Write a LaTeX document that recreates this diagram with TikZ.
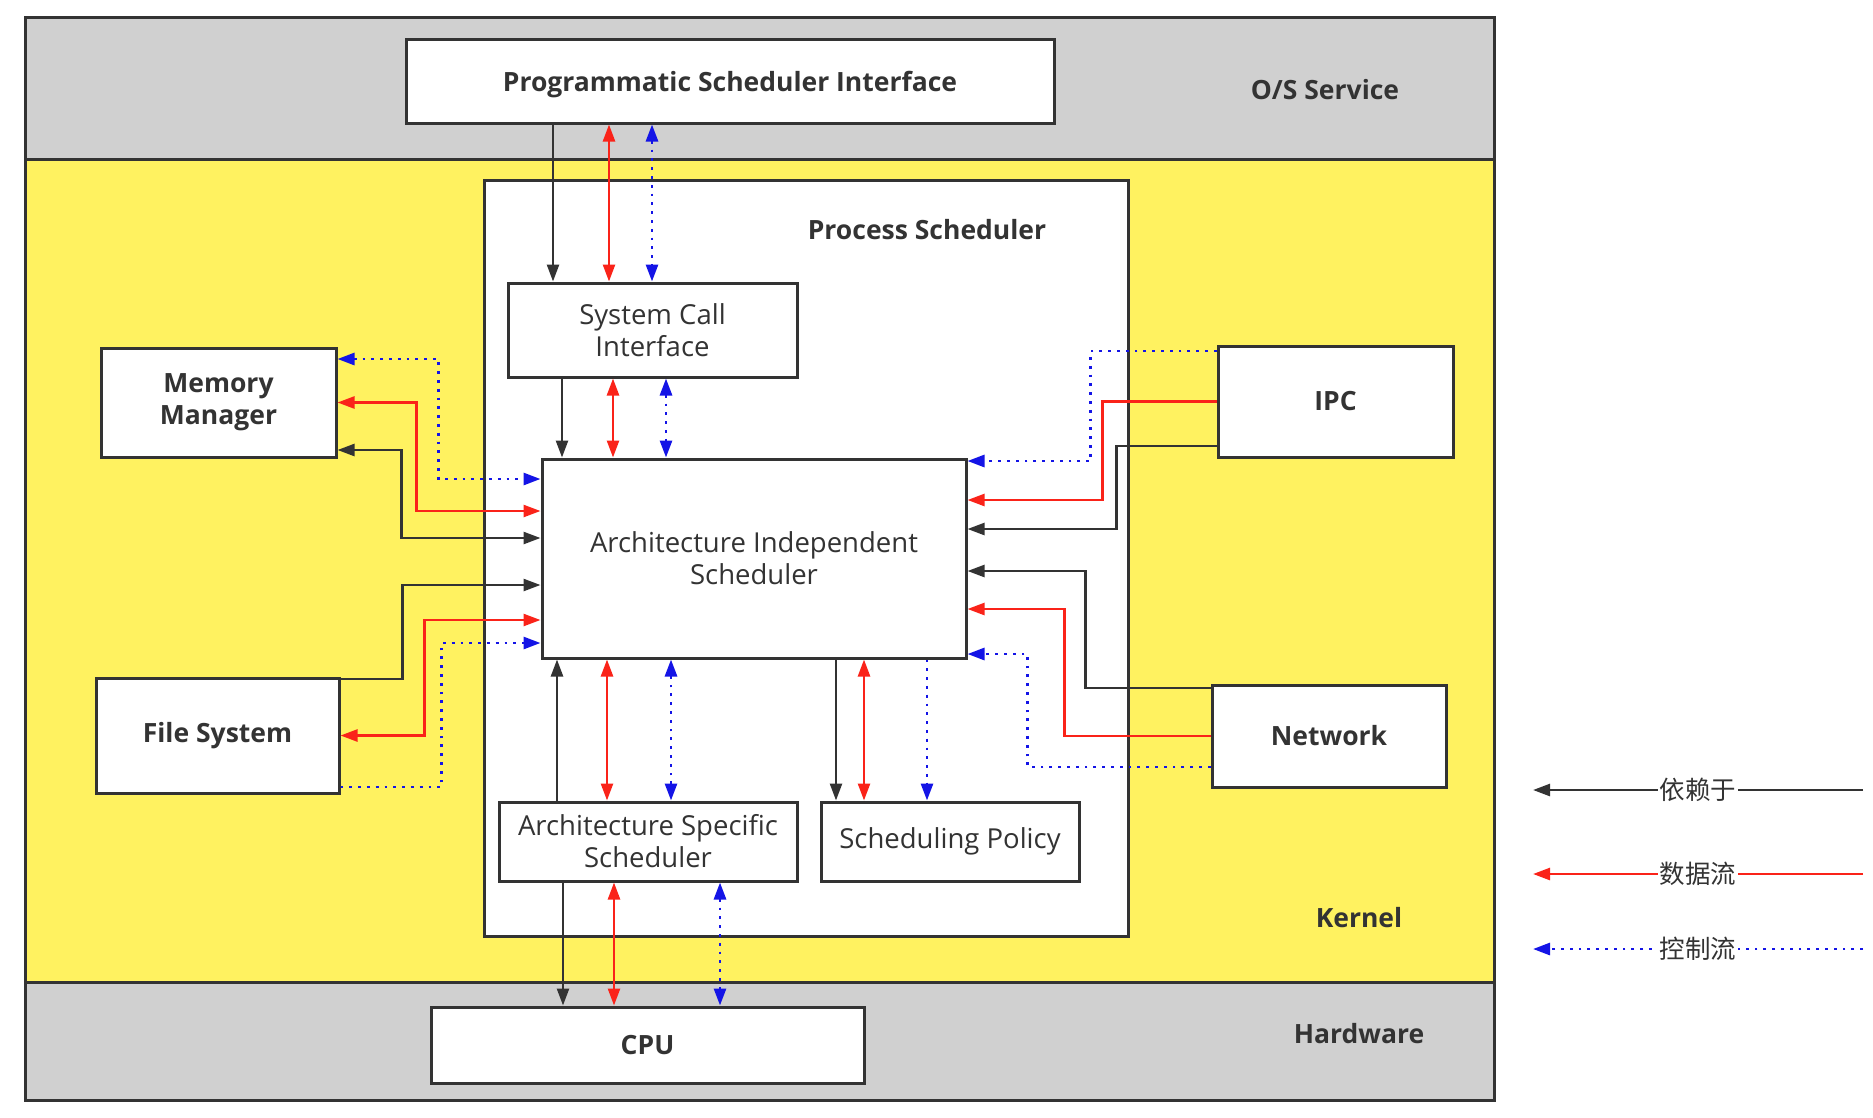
\documentclass[tikz,border=0pt]{standalone}
\usepackage{fontspec}
\setmainfont{Open Sans}
\newfontfamily\cjk{Noto Sans CJK SC}
\usetikzlibrary{arrows.meta}
\definecolor{LineCol}{RGB}{51,51,51}
\definecolor{BandGray}{RGB}{208,208,208}
\definecolor{KernelYel}{RGB}{255,242,96}
\definecolor{DataCol}{RGB}{250,35,25}
\definecolor{CtrlCol}{RGB}{20,20,230}
\tikzstyle{band} = [draw=LineCol, line width=3pt]
\tikzstyle{box} = [draw=LineCol, line width=3pt, fill=white, inner sep=0pt, align=center, text=LineCol, font=\fontsize{27.5}{32}\selectfont]
\tikzstyle{boldbox} = [box, font=\fontsize{26.5}{32}\selectfont\bfseries]
\tikzstyle{lbl} = [text=LineCol, font=\fontsize{26.5}{32}\selectfont\bfseries]
\tikzstyle{legend} = [fill=white, inner sep=2pt, text=LineCol, font=\cjk\fontsize{25.5}{30}\selectfont]
\tikzstyle{depline} = [LineCol, line width=2.5pt]
\tikzstyle{dataline} = [DataCol, line width=2.5pt]
\tikzstyle{ctrlline} = [CtrlCol, line width=2.8pt, dash pattern=on 2.8pt off 6pt]

\begin{document}
\begin{tikzpicture}[x=1pt,y=-1pt,>={Triangle[length=17pt,width=12pt]}]
\useasboundingbox (0,0) rectangle (1873,1117);

% layers
\filldraw[band, fill=BandGray] (25,17) rectangle (1494,159);
\filldraw[band, fill=KernelYel] (25,159) rectangle (1494,982);
\filldraw[band, fill=BandGray] (25,982) rectangle (1494,1100);
\node[lbl] (oslbl) at (1325,90) {O/S Service};
\node[lbl] (kernellbl) at (1359,918) {Kernel};
\node[lbl] (hwlbl) at (1359,1034) {Hardware};

\node[box, minimum width=644, minimum height=756] (ps) at (806,558) {};
\node[lbl] (pslbl) at (927,230) {Process Scheduler};

% boxes
\node[boldbox, text depth=0pt, minimum width=648, minimum height=84] (psi) at (730,81) {Programmatic Scheduler Interface};
\node[box, minimum width=289, minimum height=94] (sci) at (652.5,330) {System Call\\Interface};
\node[box, minimum width=424, minimum height=199] (ais) at (754,558.5) {Architecture Independent\\Scheduler};
\node[box, minimum width=298, minimum height=79] (ass) at (648,841.5) {Architecture Specific\\Scheduler};
\node[box, minimum width=258, minimum height=79] (sp) at (950,841.5) {Scheduling Policy};
\node[boldbox, minimum width=433, minimum height=76] (cpu) at (647.5,1045) {CPU};
\node[boldbox, minimum width=235, minimum height=109] (mm) at (218.5,402.5) {Memory\\Manager};
\node[boldbox, minimum width=243, minimum height=115] (fs) at (217.5,735.5) {File System};
\node[boldbox, minimum width=235, minimum height=111] (ipc) at (1335.5,401.5) {IPC};
\node[boldbox, minimum width=234, minimum height=102] (net) at (1329,736) {Network};

% vertical links
\draw[depline,->] ([xshift=-177]psi.south) -- ([xshift=-99.5]sci.north);
\draw[dataline,<->] ([xshift=-121]psi.south) -- ([xshift=-43.5]sci.north);
\draw[ctrlline,<->] ([xshift=-78]psi.south) -- ([xshift=-0.5]sci.north);

\draw[depline,->] ([xshift=-90.5]sci.south) -- ([xshift=-192]ais.north);
\draw[dataline,<->] ([xshift=-39.5]sci.south) -- ([xshift=-141]ais.north);
\draw[ctrlline,<->] ([xshift=13.5]sci.south) -- ([xshift=-88]ais.north);

\draw[depline,->] ([xshift=-91]ass.north) -- ([xshift=-197]ais.south);
\draw[dataline,<->] ([xshift=-41]ass.north) -- ([xshift=-147]ais.south);
\draw[ctrlline,<->] ([xshift=23]ass.north) -- ([xshift=-83]ais.south);

\draw[depline,->] ([xshift=82]ais.south) -- ([xshift=-114]sp.north);
\draw[dataline,<->] ([xshift=110]ais.south) -- ([xshift=-86]sp.north);
\draw[ctrlline,->] ([xshift=173]ais.south) -- ([xshift=-23]sp.north);

\draw[depline,->] ([xshift=-85]ass.south) -- ([xshift=-84.5]cpu.north);
\draw[dataline,<->] ([xshift=-34]ass.south) -- ([xshift=-33.5]cpu.north);
\draw[ctrlline,<->] ([xshift=72]ass.south) -- ([xshift=72.5]cpu.north);

% left side
\draw[ctrlline,<->] ([yshift=43.5]mm.east) -- ++(101,0) |- ([yshift=79.5]ais.west);
\draw[dataline,<->] (mm.east) -- ++(79,0) |- ([yshift=47.5]ais.west);
\draw[depline,<->] ([yshift=-47.5]mm.east) -- ++(64,0) |- ([yshift=20.5]ais.west);

\draw[depline,->] ([yshift=56.5]fs.east) -- ++(62,0) |- ([yshift=-26.5]ais.west);
\draw[dataline,<->] (fs.east) -- ++(84,0) |- ([yshift=-61.5]ais.west);
\draw[ctrlline,->] ([yshift=-51.5]fs.east) -- ++(101,0) |- ([yshift=-84.5]ais.west);

% right side
\draw[ctrlline,->] ([yshift=50.5]ipc.west) -- ++(-126,0) |- ([yshift=97.5]ais.east);
\draw[dataline,->] (ipc.west) -- ++(-114,0) |- ([yshift=58.5]ais.east);
\draw[depline,->] ([yshift=-44.5]ipc.west) -- ++(-100,0) |- ([yshift=29.5]ais.east);

\draw[depline,->] ([yshift=48]net.west) -- ++(-125,0) |- ([yshift=-12.5]ais.east);
\draw[dataline,->] (net.west) -- ++(-146,0) |- ([yshift=-50.5]ais.east);
\draw[ctrlline,->] ([yshift=-31]net.west) -- ++(-183,0) |- ([yshift=-95.5]ais.east);

% legend
\coordinate (depR) at (1863,790);
\coordinate (depL) at (1533,790);
\coordinate (dataR) at (1863,874);
\coordinate (dataL) at (1533,874);
\coordinate (ctrlR) at (1863,949);
\coordinate (ctrlL) at (1533,949);
\draw[depline,->] (depR) -- node[legend] (depT) {依赖于} (depL);
\draw[dataline,->] (dataR) -- node[legend] (dataT) {数据流} (dataL);
\draw[ctrlline,->] (ctrlR) -- node[legend] (ctrlT) {控制流} (ctrlL);

\end{tikzpicture}
\end{document}
